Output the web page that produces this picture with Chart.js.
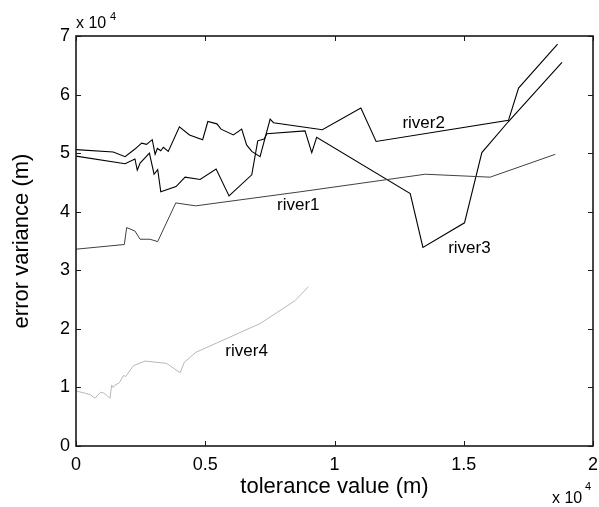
<!DOCTYPE html>
<html>
<head>
<meta charset="utf-8">
<script src="https://cdn.jsdelivr.net/npm/chart.js@4.4.1/dist/chart.umd.min.js"></script>
<style>
  html, body { margin: 0; padding: 0; background: #fff; }
  canvas { display: block; }
</style>
</head>
<body>
<canvas id="chart" width="599" height="507"></canvas>
<script>
// values are in units of 1e4 (tolerance) and 1e4 (error variance)
const river1X = [0, 0.187, 0.196, 0.228, 0.248, 0.286, 0.316, 0.386, 0.463, 0.867, 1.351, 1.602, 1.854];
const river1Y = [3.36, 3.44, 3.73, 3.67, 3.53, 3.53, 3.49, 4.15, 4.10, 4.34, 4.64, 4.59, 4.98];

const river2X = [0, 0.144, 0.19, 0.228, 0.254, 0.273, 0.295, 0.306, 0.315, 0.328, 0.338, 0.357, 0.40, 0.439, 0.49,
  0.51, 0.545, 0.561, 0.609, 0.641, 0.66, 0.68, 0.712, 0.751, 0.764, 0.953, 1.102, 1.161, 1.673, 1.712, 1.863];
const river2Y = [5.06, 5.02, 4.94, 5.07, 5.17, 5.15, 5.23, 4.98, 5.08, 5.04, 5.10, 5.03, 5.45, 5.31, 5.23,
  5.54, 5.50, 5.41, 5.31, 5.41, 5.14, 5.03, 4.94, 5.58, 5.52, 5.40, 5.77, 5.20, 5.56, 6.11, 6.86];

const river3X = [0, 0.19, 0.228, 0.237, 0.248, 0.284, 0.302, 0.316, 0.328, 0.387, 0.422, 0.48, 0.542, 0.592,
  0.68, 0.703, 0.728, 0.738, 0.886, 0.912, 0.931, 1.293, 1.342, 1.503, 1.57, 1.673, 1.88];
const river3Y = [4.95, 4.82, 4.90, 4.71, 4.83, 5.0, 4.64, 4.72, 4.34, 4.43, 4.59, 4.55, 4.73, 4.27,
  4.63, 5.21, 5.24, 5.33, 5.38, 5.01, 5.27, 4.31, 3.39, 3.81, 5.01, 5.54, 6.55];

const river4X = [0, 0.054, 0.0735, 0.095, 0.106, 0.115, 0.1316, 0.138, 0.144, 0.151, 0.168, 0.183, 0.193,
  0.222, 0.267, 0.351, 0.403, 0.419, 0.464, 0.712, 0.847, 0.899];
const river4Y = [0.94, 0.88, 0.815, 0.92, 0.906, 0.88, 0.815, 1.04, 1.0, 1.04, 1.08, 1.2, 1.19,
  1.37, 1.45, 1.41, 1.25, 1.43, 1.6, 2.09, 2.48, 2.72];

const xTicks = [0, 0.5, 1, 1.5, 2];
const yTicks = [0, 1, 2, 3, 4, 5, 6, 7];

const FONT = 'Liberation Sans, Arial, Helvetica, sans-serif';

function toPoints(xs, ys) {
  return xs.map((x, i) => ({ x: x, y: ys[i] }));
}

// in-plot labels, placed in data units
const seriesLabels = [
  { text: 'river1', x: 0.86, y: 4.11 },
  { text: 'river2', x: 1.345, y: 5.51 },
  { text: 'river3', x: 1.522, y: 3.37 },
  { text: 'river4', x: 0.66, y: 1.61 },
];

// box, inward ticks, labels and the x10^4 multipliers
const matlabFrame = {
  id: 'matlabFrame',
  afterDatasetsDraw(chart) {
    const { ctx, chartArea: a, scales: { x, y } } = chart;
    ctx.save();
    ctx.strokeStyle = '#1a1a1a';
    ctx.lineWidth = 1;
    ctx.beginPath();
    xTicks.forEach(t => {
      const px = Math.round(x.getPixelForValue(t)) + 0.5;
      ctx.moveTo(px, a.bottom); ctx.lineTo(px, a.bottom - 5);
      ctx.moveTo(px, a.top); ctx.lineTo(px, a.top + 5);
    });
    yTicks.forEach(t => {
      const py = Math.round(y.getPixelForValue(t)) + 0.5;
      ctx.moveTo(a.left, py); ctx.lineTo(a.left + 5, py);
      ctx.moveTo(a.right, py); ctx.lineTo(a.right - 5, py);
    });
    ctx.stroke();

    ctx.lineWidth = 1.6;
    ctx.strokeRect(a.left, a.top, a.right - a.left, a.bottom - a.top);

    ctx.fillStyle = '#000';
    ctx.font = '17px ' + FONT;
    ctx.textAlign = 'center';
    ctx.textBaseline = 'middle';
    seriesLabels.forEach(l => {
      ctx.fillText(l.text, x.getPixelForValue(l.x), y.getPixelForValue(l.y));
    });

    ctx.textAlign = 'left';
    ctx.textBaseline = 'alphabetic';
    ctx.font = '16px ' + FONT;
    ctx.fillText('x 10', a.left, 28);
    ctx.fillText('x 10', 552, 503);
    ctx.font = '11px ' + FONT;
    ctx.fillText('4', a.left + 34, 20);
    ctx.fillText('4', 585, 490);
    ctx.restore();
  }
};

new Chart(document.getElementById('chart'), {
  type: 'scatter',
  data: {
    datasets: [
      { label: 'river1', data: toPoints(river1X, river1Y), borderColor: '#404040', borderWidth: 1 },
      { label: 'river2', data: toPoints(river2X, river2Y), borderColor: '#000000', borderWidth: 1.1 },
      { label: 'river3', data: toPoints(river3X, river3Y), borderColor: '#000000', borderWidth: 1.1 },
      { label: 'river4', data: toPoints(river4X, river4Y), borderColor: '#b8b8b8', borderWidth: 1 },
    ].map(d => Object.assign(d, { showLine: true, pointRadius: 0, tension: 0, fill: false })),
  },
  options: {
    responsive: false,
    animation: false,
    devicePixelRatio: 1,
    layout: { padding: { top: 36, right: 6, left: 0, bottom: 0 } },
    plugins: {
      legend: { display: false },
      tooltip: { enabled: false },
    },
    scales: {
      x: {
        type: 'linear',
        min: 0,
        max: 2,
        afterBuildTicks: s => { s.ticks = xTicks.map(v => ({ value: v })); },
        afterFit: s => { s.height = 61; s.paddingLeft = 0; s.paddingRight = 0; },
        grid: { display: false, drawTicks: false },
        border: { display: false },
        ticks: {
          color: '#000', padding: 8, maxRotation: 0,
          font: { family: FONT, size: 18 },
          callback: v => String(v),
        },
        title: {
          display: true,
          text: 'tolerance value (m)',
          color: '#000',
          font: { family: FONT, size: 22 },
          padding: { top: 0, bottom: 7 },
        },
      },
      y: {
        type: 'linear',
        min: 0,
        max: 7,
        afterBuildTicks: s => { s.ticks = yTicks.map(v => ({ value: v })); },
        afterFit: s => { s.width = 76; s.paddingTop = 0; s.paddingBottom = 0; },
        grid: { display: false, drawTicks: false },
        border: { display: false },
        ticks: {
          color: '#000', padding: 6,
          font: { family: FONT, size: 18 },
          callback: v => String(v),
        },
        title: {
          display: true,
          text: 'error variance (m)',
          color: '#000',
          font: { family: FONT, size: 22 },
          padding: { top: 9, bottom: 0 },
        },
      },
    },
  },
  plugins: [matlabFrame],
});
</script>
</body>
</html>
